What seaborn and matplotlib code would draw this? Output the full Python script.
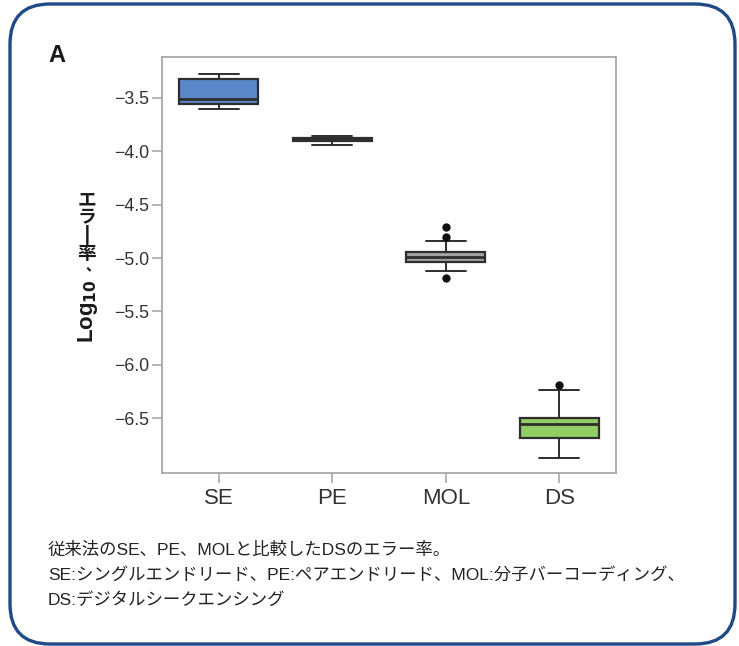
import matplotlib
matplotlib.use("Agg")
import matplotlib.pyplot as plt
from matplotlib.patches import FancyBboxPatch
from matplotlib.transforms import IdentityTransform
import seaborn as sns
import pandas as pd

# ---- data ----
categories = ["SE", "PE", "MOL", "DS"]
whisker_low = [-3.602, -3.942, -5.119, -6.870]
q1 = [-3.555, -3.905, -5.035, -6.688]
median = [-3.514, -3.889, -4.991, -6.554]
q3 = [-3.324, -3.874, -4.947, -6.495]
whisker_high = [-3.274, -3.858, -4.844, -6.233]
outlier_cat = ["MOL", "MOL", "MOL", "DS"]
outlier_val = [-4.707, -4.803, -5.187, -6.192]
box_colors = ["#5a87c8", "#8c8c8c", "#a3a3a3", "#92cc64"]
y_ticks = [-3.5, -4.0, -4.5, -5.0, -5.5, -6.0, -6.5]

rows = []
for c, a, b, m, d, e in zip(categories, whisker_low, q1, median, q3, whisker_high):
    for v in (a, b, m, d, e):
        rows.append({"group": c, "value": v})
df = pd.DataFrame(rows)
out_df = pd.DataFrame({"group": outlier_cat, "value": outlier_val})

sns.set_style("white")
plt.rcParams["font.family"] = ["Liberation Sans", "Noto Sans CJK JP", "DejaVu Sans"]

fig = plt.figure(figsize=(7.39, 6.46), dpi=100)
ax = fig.add_axes([162 / 739, 1 - 473 / 646, (616 - 162) / 739, (473 - 57) / 646])

edge = "#2e2e2e"
sns.boxplot(data=df, x="group", y="value", hue="group", order=categories,
            hue_order=categories, palette=box_colors, legend=False,
            saturation=1, whis=(0, 100), width=0.7, linewidth=1.6,
            linecolor=edge, showfliers=False, ax=ax,
            medianprops={"color": edge, "linewidth": 2.0},
            whiskerprops={"color": edge, "linewidth": 1.4},
            capprops={"color": edge, "linewidth": 1.4},
            boxprops={"edgecolor": edge})
sns.stripplot(data=out_df, x="group", y="value", order=categories,
              jitter=False, color="#111111", size=6, ax=ax, zorder=5)

ax.set_xlim(-0.5, 3.5)
ax.set_ylim(-7.013, -3.118)
ax.set_yticks(y_ticks)
ax.set_yticklabels([f"\u2212{abs(t):.1f}" for t in y_ticks])
ax.set_xlabel("")
ax.set_ylabel("")

spine_c = "#a8a8a8"
for s in ax.spines.values():
    s.set_visible(True)
    s.set_color(spine_c)
    s.set_linewidth(1.3)
ax.tick_params(axis="y", which="both", left=True, length=7, width=1.2,
               color=spine_c, labelsize=12.8, labelcolor="#333333", pad=2)
ax.tick_params(axis="x", which="both", bottom=True, length=7, width=1.2,
               color=spine_c, labelsize=16, labelcolor="#333333", pad=4)


def fx(px):
    return px / 739


def fy(py):
    return 1 - py / 646


jp = ["Noto Sans CJK JP", "DejaVu Sans"]
lat_jp = ["Liberation Sans", "Noto Sans CJK JP", "DejaVu Sans"]

# ---- y label: vertical Japanese stack + rotated Log10 ----
lab_c = "#1a1a1a"
fig.text(fx(87), fy(190), "エ\nラ\n丨\n率", ha="center", va="top",
         fontsize=13.5, fontweight="bold", family=jp, color=lab_c,
         linespacing=0.93, multialignment="center")
fig.text(fx(84), fy(271), "、", ha="center", va="center", rotation=180,
         fontsize=11, fontweight="bold", family=jp, color=lab_c)
fig.text(fx(88), fy(311), "Log$_{\\mathbf{10}}$", ha="center", va="center",
         fontsize=16, fontweight="bold", rotation=90, color=lab_c,
         family=["Liberation Sans", "DejaVu Sans"])

# ---- panel letter ----
fig.text(fx(48), fy(56), "A", ha="left", va="center", fontsize=17,
         fontweight="bold", color=lab_c, family=["Liberation Sans", "DejaVu Sans"])

# ---- caption ----
cap = ["従来法のSE、PE、MOLと比較したDSのエラー率。",
       "SE:シングルエンドリード、PE:ペアエンドリード、MOL:分子バーコーディング、",
       "DS:デジタルシークエンシング"]
for i, line in enumerate(cap):
    fig.text(fx(48), fy(550 + 25 * i), line, ha="left", va="center",
             fontsize=12.5, color="#222222", family=lat_jp)

# ---- rounded border (pixel coordinates, origin bottom-left) ----
border = FancyBboxPatch((10, 646 - 644), 735 - 10, 644 - 4,
                        boxstyle="round,pad=0,rounding_size=40",
                        transform=IdentityTransform(), fill=False,
                        edgecolor="#1f4a85", linewidth=2.4, clip_on=False)
fig.patches.append(border)

fig.savefig("out.png", dpi=100)
